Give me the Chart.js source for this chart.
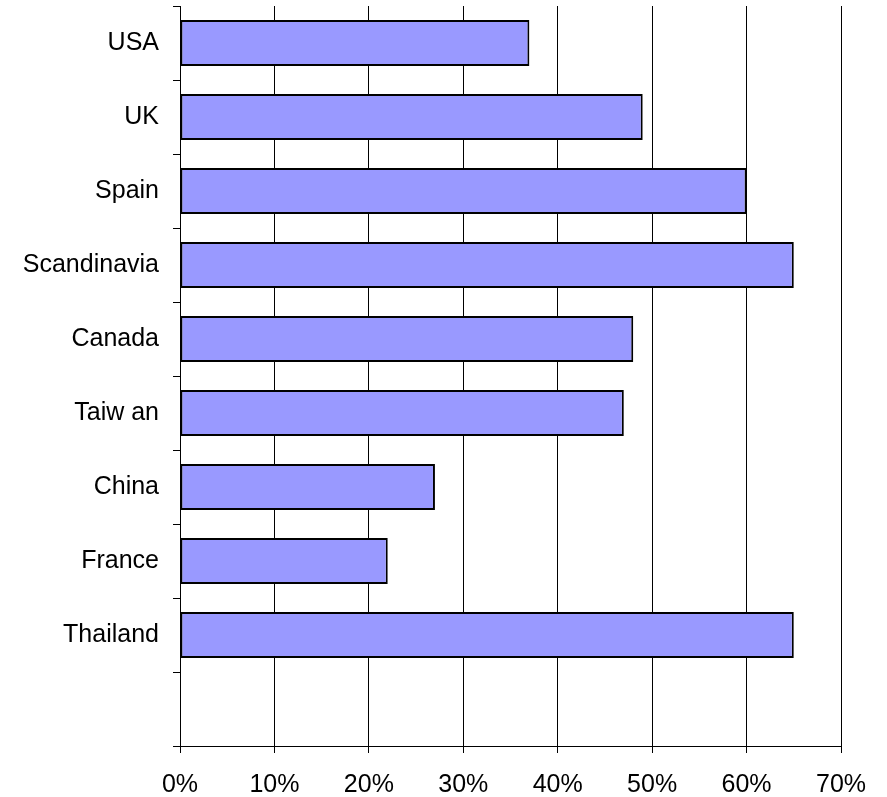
<!DOCTYPE html>
<html>
<head>
<meta charset="utf-8">
<script src="https://cdn.jsdelivr.net/npm/chart.js@4"></script>
<style>
  html, body { margin: 0; padding: 0; background: #fff; }
  #wrap { width: 887px; height: 797px; position: relative; }
</style>
</head>
<body>
<div id="wrap"><canvas id="bars"></canvas></div>
<script>
// share per country, in percent (last slot is left empty like the original)
const countries = ["USA", "UK", "Spain", "Scandinavia", "Canada", "Taiw an", "China", "France", "Thailand", ""];
const shares = [37, 49, 60, 65, 48, 47, 27, 22, 65, null];
const xTicks = [0, 10, 20, 30, 40, 50, 60, 70];

const labelFont = { family: "'Liberation Sans', Arial, sans-serif", size: 25 };

const config = {
    type: "bar",
    data: {
        labels: countries,
        datasets: [{
            data: shares,
            backgroundColor: "#9999ff",
            borderColor: "#000",
            borderWidth: 2,
            borderSkipped: false,
            categoryPercentage: 1,
            barPercentage: 0.62
        }]
    },
    options: {
        indexAxis: "y",
        responsive: true,
        maintainAspectRatio: false,
        animation: false,
        layout: { padding: { left: 0, right: 46, top: 6, bottom: 0 } },
        plugins: {
            legend: { display: false },
            tooltip: { enabled: false }
        },
        scales: {
            x: {
                min: xTicks[0],
                max: xTicks[xTicks.length - 1],
                afterBuildTicks: scale => { scale.ticks = xTicks.map(v => ({ value: v })); },
                grid: { color: "#000", lineWidth: 1, tickLength: 7, drawTicks: true },
                border: { color: "#000", width: 1 },
                ticks: {
                    color: "#000",
                    font: labelFont,
                    padding: 17,
                    maxRotation: 0,
                    callback: v => v + "%"
                },
                afterFit: scale => { scale.height = 51; }
            },
            y: {
                offset: true,
                grid: { drawOnChartArea: false, offset: true, color: "#000", tickLength: 7 },
                border: { color: "#000", width: 1 },
                ticks: { color: "#000", font: labelFont, padding: 14 },
                afterFit: scale => {
                    // no overhang room for the first/last label, the plot starts right at the top
                    scale.width = 180;
                    scale.paddingTop = 0;
                    scale.paddingBottom = 0;
                }
            }
        }
    }
};

new Chart(document.getElementById("bars"), config);
</script>
</body>
</html>
